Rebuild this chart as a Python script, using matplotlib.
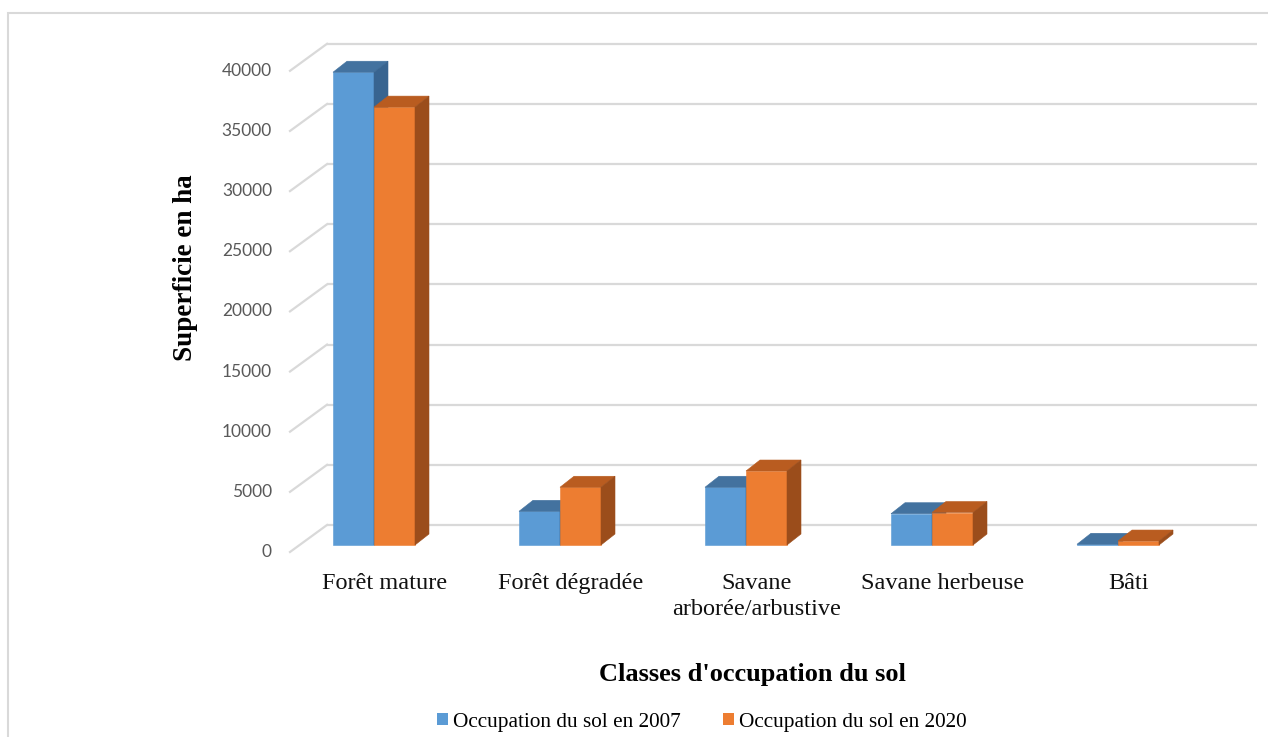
import numpy as np
import matplotlib
matplotlib.use("Agg")
import matplotlib.pyplot as plt
from matplotlib.patches import Polygon, Patch, Rectangle

# data (ha)
categories = ["Forêt mature", "Forêt dégradée", "Savane\narborée/arbustive",
              "Savane herbeuse", "Bâti"]
occ_2007 = [39300, 2800, 4800, 2600, 60]
occ_2020 = [36400, 4800, 6150, 2700, 330]
series_names = ["Occupation du sol en 2007", "Occupation du sol en 2020"]
yticks = [0, 5000, 10000, 15000, 20000, 25000, 30000, 35000, 40000]

# colours: front, top, side
blue = ("#5B9BD5", "#43729F", "#386490")
orange = ("#ED7D31", "#B95C20", "#9B4D1B")

W, H = 1268, 737
fig = plt.figure(figsize=(W / 100, H / 100), dpi=100)
ax = fig.add_axes([0, 0, 1, 1])
ax.set_axis_off()

# pseudo 3d scale: 186 px per category, 0.01203 px per ha
cat_px = 186.0
val_px = 0.01203
x_origin, y_origin = 374.0, 545.0
ax.set_xlim(-x_origin / cat_px, (W - x_origin) / cat_px)
ax.set_ylim((y_origin - H) / val_px, y_origin / val_px)

bar_w = 41 / cat_px
dep_x, dep_y = 14 / cat_px, 11 / val_px          # bar depth
back_x, back_y = -47 / cat_px, 20 / val_px        # back wall
front_x, front_y = -84 / cat_px, -7 / val_px      # front edge
grid_end = (1257 - x_origin) / cat_px
grid_col = "#D9D9D9"

for v in yticks:
    ax.plot([back_x, grid_end], [v + back_y, v + back_y], color=grid_col, lw=1.6,
            solid_capstyle="butt", zorder=1)
    ax.plot([front_x, back_x], [v + front_y, v + back_y], color=grid_col, lw=1.6,
            zorder=1)
    ax.text(-102 / cat_px, v + front_y, str(v), ha="right", va="center",
            fontsize=12.5, color="#595959", family="Lato")


def draw_bar(x, h, cols, z):
    front, top, side = cols
    ax.add_patch(Polygon([(x, 0), (x + bar_w, 0), (x + bar_w, h), (x, h)],
                         closed=True, fc=front, ec=front, lw=0.4, zorder=z))
    ax.add_patch(Polygon([(x, h), (x + bar_w, h), (x + bar_w + dep_x, h + dep_y),
                          (x + dep_x, h + dep_y)],
                         closed=True, fc=top, ec=top, lw=0.4, zorder=z))
    ax.add_patch(Polygon([(x + bar_w, 0), (x + bar_w + dep_x, dep_y),
                          (x + bar_w + dep_x, h + dep_y), (x + bar_w, h)],
                         closed=True, fc=side, ec=side, lw=0.4, zorder=z))


for i, (a, b) in enumerate(zip(occ_2007, occ_2020)):
    draw_bar(i - bar_w, a, blue, 3)
    draw_bar(i, b, orange, 4)
    ax.text(i + 0.055, -28 / val_px, categories[i], ha="center", va="top",
            fontsize=17.5, family="Liberation Serif", color="#111111",
            linespacing=1.3)

fig.text(185 / W, 1 - 268 / H, "Superficie en ha", rotation=90, ha="center",
         va="center", fontsize=19.5, fontweight="bold", family="Liberation Serif")
fig.text(752 / W, 1 - 675 / H, "Classes d'occupation du sol", ha="center",
         va="center", fontsize=19, fontweight="bold", family="Liberation Serif")

handles = [Patch(fc=blue[0], ec="none"), Patch(fc=orange[0], ec="none")]
fig.legend(handles, series_names, loc="center", bbox_to_anchor=(702 / W, 1 - 722 / H),
           ncol=2, frameon=False, handlelength=0.5, handleheight=0.5,
           handletextpad=0.25, columnspacing=2.0,
           prop={"family": "Liberation Serif", "size": 15.3})

fig.add_artist(Rectangle((8 / W, -0.2), 1.2, 1.2 - 13 / H, transform=fig.transFigure,
                         fill=False, ec="#D9D9D9", lw=1.5))

fig.savefig("out.png", dpi=100, facecolor="white")
